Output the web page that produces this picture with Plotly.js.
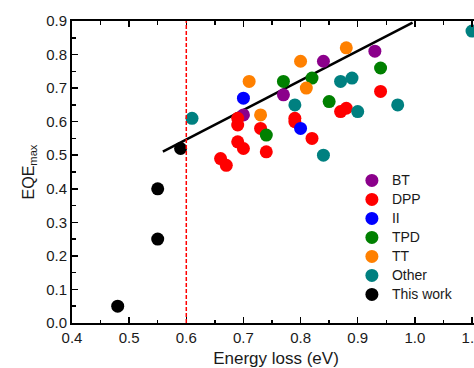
<!DOCTYPE html>
<html><head><meta charset="utf-8">
<script src="https://cdn.plot.ly/plotly-3.0.1.min.js"></script>
<style>html,body{margin:0;padding:0;overflow:hidden;background:#fff}#plot{width:520px;height:368px}</style>
</head><body><div id="plot"></div>
<script>
const groups = ["BT","DPP","II","TPD","TT","Other","This work"];
const colors = ["#8b008b","#ff0000","#0000ff","#008000","#ff8000","#008080","#000000"];
const btX = [0.70,0.77,0.84,0.93];
const btY = [0.62,0.68,0.78,0.81];
const dppX = [0.66,0.67,0.69,0.70,0.69,0.69,0.73,0.74,0.79,0.79,0.82,0.87,0.88,0.94];
const dppY = [0.49,0.47,0.54,0.52,0.59,0.61,0.58,0.51,0.61,0.60,0.55,0.63,0.64,0.69];
const iiX = [0.70,0.80];
const iiY = [0.67,0.58];
const tpdX = [0.74,0.77,0.82,0.85,0.94];
const tpdY = [0.56,0.72,0.73,0.66,0.76];
const ttX = [0.71,0.73,0.80,0.81,0.88];
const ttY = [0.72,0.62,0.78,0.70,0.82];
const otherX = [0.61,0.79,0.84,0.87,0.89,0.90,0.97,1.10];
const otherY = [0.61,0.65,0.50,0.72,0.73,0.63,0.65,0.87];
const workX = [0.48,0.55,0.55,0.59];
const workY = [0.05,0.25,0.40,0.52];
const fitX = [0.559,0.996];
const fitY = [0.511,0.895];
const limitX = 0.6;

const xs=[btX,dppX,iiX,tpdX,ttX,otherX,workX];
const ys=[btY,dppY,iiY,tpdY,ttY,otherY,workY];
const fam = "Liberation Sans, Arial, sans-serif";
const txt = "#1a1a1a";
const tickFont = {family:fam, size:15, color:txt};
const traces = [{x:fitX,y:fitY,mode:"lines",line:{color:"#000",width:2.5},showlegend:false,hoverinfo:"skip"}];
groups.forEach((g,i)=>traces.push({x:xs[i],y:ys[i],mode:"markers",type:"scatter",
  name:'<span style="font-size:14px">'+g+'</span>',
  marker:{color:colors[i],size:13,line:{width:0}}}));

const minor = {dtick:0.05,ticks:"inside",ticklen:3.5,tickwidth:1.5,tickcolor:"#000"};
const axisCommon = {showgrid:false,zeroline:false,showline:true,linecolor:"#000",linewidth:2,
  ticks:"inside",ticklen:6,tickwidth:1.5,tickcolor:"#000",mirror:"ticks",tickfont:tickFont};
const layout = {
  width:520,height:368,margin:{l:72,r:40,t:21,b:45},
  paper_bgcolor:"#fff",plot_bgcolor:"#fff",font:{family:fam,size:14,color:txt},
  xaxis:Object.assign({},axisCommon,{range:[0.4,1.114],dtick:0.1,tick0:0.4,tickformat:".1f",
    minor:minor,
    title:{text:"Energy loss (eV)",font:{family:fam,size:17,color:txt},standoff:7}}),
  yaxis:Object.assign({},axisCommon,{range:[0,0.9],dtick:0.1,tick0:0,tickformat:".1f",
    minor:minor,
    title:{text:"EQE<sub>max</sub>",font:{family:fam,size:16,color:txt},standoff:8}}),
  shapes:[{type:"line",xref:"x",yref:"y",x0:limitX,x1:limitX,y0:0,y1:0.9,
    line:{color:"#ff0000",width:1.5,dash:"4px,2px"}}],
  legend:{x:0.686,xanchor:"left",y:0.52,yanchor:"top",bgcolor:"rgba(0,0,0,0)",
    font:{family:fam,size:11,color:txt},tracegroupgap:0},
  showlegend:true
};
Plotly.newPlot("plot",traces,layout,{displayModeBar:false,staticPlot:true});
</script></body></html>
